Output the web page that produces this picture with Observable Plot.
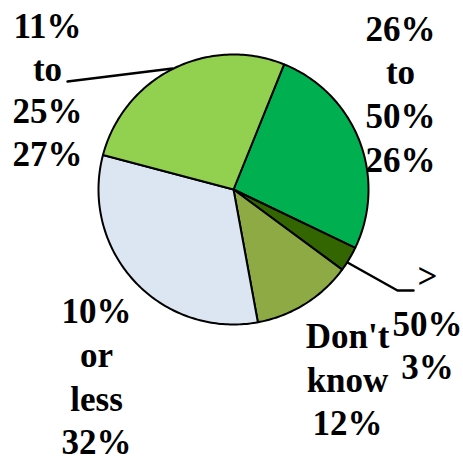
<!DOCTYPE html>
<html>
<head>
<meta charset="utf-8">
<script src="https://cdn.jsdelivr.net/npm/d3@7"></script>
<script src="https://cdn.jsdelivr.net/npm/@observablehq/plot@0.6"></script>
<style>
  html, body { margin: 0; padding: 0; background: #ffffff; }
</style>
</head>
<body>
<div id="chart"></div>
<script>
// ---- data ----
const categories = ["26% to 50%", "> 50%", "Don't know", "10% or less", "11% to 25%"];
const values = [26, 3, 12, 32, 27];
const colors = ["#00b050", "#336600", "#8eaa44", "#dce6f2", "#92d050"];
const labelLines = [
  ["26%", "to", "50%", "26%"],
  [">", "50%", "3%"],
  ["Don't", "know", "12%"],
  ["10%", "or", "less", "32%"],
  ["11%", "to", "25%", "27%"]
];

// ---- layout (pixels) ----
const W = 463, H = 456;
const CX = 233, CY = 189, R = 135;
const startDeg = 22;
const FS = 35;
// per label: center x, baseline y of each line
const labelPx = [
  [400, [40, 83, 127, 171]],
  [427, [287, 335, 378]],
  [347, [347, 391, 434]],
  [96, [322, 366, 410, 453]],
  [47, [37, 80, 122, 165]]
];
const leaderPx = [
  [[67, 81], [172, 68]],
  [[347, 262], [397, 290], [413, 290]]
];

const toX = px => (px - CX) / R;
const toY = py => (CY - py) / R;

// slices from the library's pie layout
const pie = d3.pie().sort(null)
  .startAngle(startDeg * Math.PI / 180)
  .endAngle(startDeg * Math.PI / 180 + 2 * Math.PI);
const arcs = pie(values);
const slicePts = [];
arcs.forEach((a, i) => {
  const name = categories[i];
  slicePts.push({name, x: 0, y: 0});
  const n = Math.max(2, Math.ceil((a.endAngle - a.startAngle) / (Math.PI / 180)));
  for (let k = 0; k <= n; k++) {
    const t = a.startAngle + (a.endAngle - a.startAngle) * k / n;
    slicePts.push({name, x: Math.sin(t), y: Math.cos(t)});
  }
  slicePts.push({name, x: 0, y: 0});
});

const labels = [];
categories.forEach((c, i) => {
  labelLines[i].forEach((t, j) => {
    labels.push({text: t, x: toX(labelPx[i][0]), y: toY(labelPx[i][1][j])});
  });
});
const leaders = [];
leaderPx.forEach((pts, j) => pts.forEach(p => leaders.push({id: j, x: toX(p[0]), y: toY(p[1])})));

const chart = Plot.plot({
  width: W, height: H,
  margin: 0,
  x: {domain: [toX(0), toX(W)], range: [0, W], axis: null},
  y: {domain: [toY(H), toY(0)], range: [H, 0], axis: null},
  color: {domain: categories, range: colors},
  marks: [
    Plot.line(slicePts, {x: "x", y: "y", z: "name", fill: "name", stroke: "black", strokeWidth: 2, strokeLinejoin: "round", curve: "linear"}),
    Plot.line(leaders, {x: "x", y: "y", z: "id", stroke: "black", strokeWidth: 2.5}),
    Plot.text(labels, {x: "x", y: "y", text: "text", textAnchor: "middle", lineAnchor: "bottom",
      fontSize: FS, fontFamily: "Times New Roman", fontWeight: "bold", fill: "black"})
  ]
});
document.getElementById("chart").appendChild(chart);
</script>
</body>
</html>
